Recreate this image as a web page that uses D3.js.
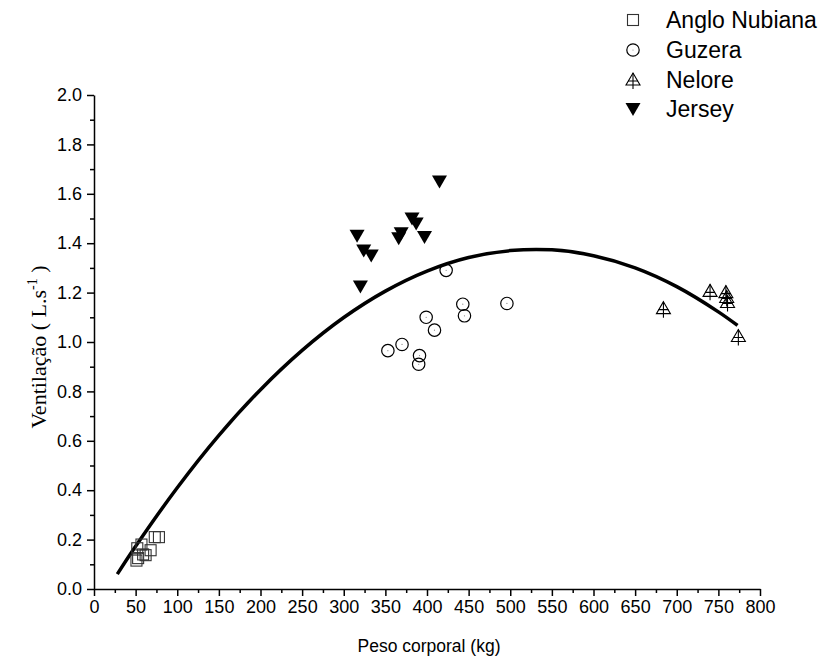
<!DOCTYPE html>
<html><head><meta charset="utf-8">
<script src="https://cdn.jsdelivr.net/npm/d3@7"></script>
<style>body{margin:0;background:#fff}svg{display:block}</style>
</head><body>
<svg id="c" width="826" height="662"></svg>
<script>
// ---- data ----
const angloX = [51, 53, 52, 57, 59, 62, 68, 73, 78];
const angloY = [0.115, 0.125, 0.165, 0.18, 0.14, 0.137, 0.157, 0.21, 0.21];
const guzeraX = [353, 370, 391, 390, 399, 409, 443, 445, 496, 423];
const guzeraY = [0.965, 0.99, 0.945, 0.91, 1.10, 1.048, 1.153, 1.106, 1.156, 1.29];
const neloreX = [684, 740, 759, 760, 761, 774];
const neloreY = [1.135, 1.205, 1.20, 1.18, 1.16, 1.022];
const jerseyX = [316, 324, 333, 320, 366, 369, 382, 387, 397, 415];
const jerseyY = [1.43, 1.37, 1.35, 1.225, 1.42, 1.44, 1.50, 1.48, 1.425, 1.65];
// fitted curve, read at sample points
const curveX = [28, 50, 100, 150, 200, 250, 300, 350, 400, 450, 500, 550, 600, 650, 700, 750, 773];
const curveY = [0.060, 0.173, 0.410, 0.622, 0.807, 0.966, 1.099, 1.206, 1.287, 1.342, 1.370, 1.373, 1.349, 1.300, 1.224, 1.122, 1.067];
const seriesNames = ["Anglo Nubiana", "Guzera", "Nelore", "Jersey"];
const xTicks = d3.range(0, 801, 50);
const yTicks = d3.range(0, 2.001, 0.2);

const svg = d3.select("#c");
const x = d3.scaleLinear().domain([0, 800]).range([94, 760]);
const y = d3.scaleLinear().domain([0, 2]).range([589, 95]);

// axes
const gx = svg.append("g").attr("transform", "translate(0,589)")
  .call(d3.axisBottom(x).tickValues(xTicks).tickSize(7).tickSizeOuter(0).tickPadding(4));
const gxm = svg.append("g").attr("transform", "translate(0,589)")
  .call(d3.axisBottom(x).tickValues(d3.range(25, 800, 50)).tickSize(4).tickSizeOuter(0).tickFormat(""));
const gy = svg.append("g").attr("transform", "translate(94,0)")
  .call(d3.axisLeft(y).tickValues(yTicks).tickSize(7).tickSizeOuter(0).tickPadding(5).tickFormat(d3.format(".1f")));
const gym = svg.append("g").attr("transform", "translate(94,0)")
  .call(d3.axisLeft(y).tickValues(d3.range(0.1, 2, 0.2)).tickSize(4).tickSizeOuter(0).tickFormat(""));
[gx, gxm, gy, gym].forEach(g => {
  g.selectAll("path.domain").attr("stroke", "#000").attr("stroke-width", 1.5);
  g.selectAll(".tick line").attr("stroke", "#000").attr("stroke-width", 1.5);
  g.selectAll(".tick text").attr("font-family", "Liberation Sans, Arial, sans-serif").attr("font-size", 18).attr("fill", "#000");
});
gxm.select("path.domain").remove();
gym.select("path.domain").remove();

// axis titles
svg.append("text").attr("x", 429).attr("y", 652).attr("text-anchor", "middle")
  .attr("font-family", "Liberation Sans, Arial, sans-serif").attr("font-size", 17.5).text("Peso corporal (kg)");
const yt = svg.append("text").attr("transform", "translate(46,347) rotate(-90)").attr("text-anchor", "middle")
  .attr("font-family", "Liberation Serif, Times New Roman, serif").attr("font-size", 22);
yt.append("tspan").text("Ventilação ( L.s");
yt.append("tspan").attr("dy", -9).attr("font-size", 14).text("-1");
yt.append("tspan").attr("dy", 9).text(" )");

// curve
const line = d3.line().x(d => x(d[0])).y(d => y(d[1])).curve(d3.curveCatmullRom);
svg.append("path").datum(d3.zip(curveX, curveY)).attr("d", line)
  .attr("fill", "none").attr("stroke", "#000").attr("stroke-width", 3.5);

// marker shapes
function drawSquare(g) {
  g.append("rect").attr("x", -5.5).attr("y", -5.5).attr("width", 11).attr("height", 11)
    .attr("fill", "none").attr("stroke", "#333").attr("stroke-width", 1.1);
}
function drawCircle(g) {
  g.append("circle").attr("r", 6.2).attr("fill", "none").attr("stroke", "#000").attr("stroke-width", 1.2);
  g.append("circle").attr("r", 0.6).attr("fill", "#888");
}
function drawNelore(g) {
  g.append("path").attr("d", "M0,-7 L7,5 L-7,5 Z").attr("fill", "none").attr("stroke", "#000").attr("stroke-width", 1.1);
  g.append("path").attr("d", "M0,-7 L0,9 M-5,1 L5,1").attr("fill", "none").attr("stroke", "#000").attr("stroke-width", 1.1);
}
function drawJersey(g) {
  g.append("path").attr("d", "M-7.5,-6 L7.5,-6 L0,7 Z").attr("fill", "#000");
}
const drawers = [drawSquare, drawCircle, drawNelore, drawJersey];
const seriesData = [
  d3.zip(angloX, angloY), d3.zip(guzeraX, guzeraY), d3.zip(neloreX, neloreY), d3.zip(jerseyX, jerseyY)
];
seriesData.forEach((pts, i) => {
  svg.append("g").selectAll("g").data(pts).join("g")
    .attr("transform", d => `translate(${x(d[0])},${y(d[1])})`)
    .each(function () { drawers[i](d3.select(this)); });
});

// legend
const legY = [20, 50, 80, 109];
seriesNames.forEach((name, i) => {
  const g = svg.append("g").attr("transform", `translate(633,${legY[i]})`);
  drawers[i](g);
  svg.append("text").attr("x", 666).attr("y", legY[i]).attr("dy", "0.35em")
    .attr("font-family", "Liberation Sans, Arial, sans-serif").attr("font-size", 23).text(name);
});
</script>
</body></html>
